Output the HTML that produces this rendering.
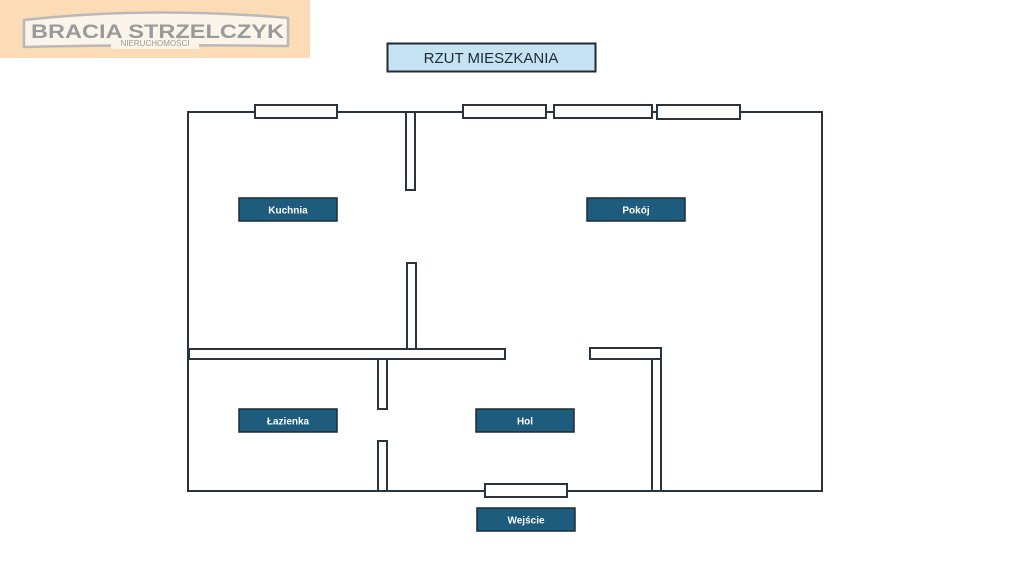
<!DOCTYPE html>
<html><head><meta charset="utf-8"><style>
html,body{margin:0;padding:0;background:#fff;width:1024px;height:576px;overflow:hidden}
svg{display:block}
</style></head><body>
<svg width="1024" height="576" viewBox="0 0 1024 576" xmlns="http://www.w3.org/2000/svg">
<rect width="1024" height="576" fill="#fff"/>
<rect x="0" y="0" width="310" height="58" fill="#fbdcb6"/>
<path d="M24 20 Q150 6 288 18 L288 46 Q150 44 24 47 Z" fill="#fbf4ea" stroke="#b9b9b9" stroke-width="2.5"/>
<text x="31" y="38" textLength="253" lengthAdjust="spacingAndGlyphs" font-family="Liberation Sans, sans-serif" font-weight="bold" font-size="19" fill="#9a9a9a">BRACIA STRZELCZYK</text>
<rect x="111" y="40" width="88" height="9" fill="#fbf4ea"/>
<text x="155" y="46" text-anchor="middle" font-family="Liberation Sans, sans-serif" font-size="8" fill="#9a9a9a">NIERUCHOMOŚCI</text>

<rect x="387.5" y="43.5" width="208" height="28" fill="#c5e3f3" stroke="#1f2a33" stroke-width="2"/>
<text x="491" y="63" text-anchor="middle" font-family="Liberation Sans, sans-serif" font-size="15" fill="#1f2a33">RZUT MIESZKANIA</text>

<g fill="#fff" stroke="#2a3440" stroke-width="2">
<rect x="188" y="112" width="634" height="379" fill="none"/>
<rect x="255" y="105" width="82" height="13"/>
<rect x="463" y="105" width="83" height="13"/>
<rect x="554" y="105" width="98" height="13"/>
<rect x="657" y="105" width="83" height="14"/>
<rect x="406" y="112" width="9" height="78"/>
<rect x="407" y="263" width="9" height="86"/>
<rect x="189" y="349" width="316" height="10"/>
<rect x="378" y="359" width="9" height="50"/>
<rect x="378" y="441" width="9" height="50"/>
<rect x="590" y="348" width="71" height="11"/>
<rect x="652" y="359" width="9" height="132"/>
<rect x="485" y="484" width="82" height="13"/>
</g>

<g fill="#1d5c7c" stroke="#1f2a33" stroke-width="1.5">
<rect x="239" y="198" width="98" height="23"/>
<rect x="587" y="198" width="98" height="23"/>
<rect x="239" y="409" width="98" height="23"/>
<rect x="476" y="409" width="98" height="23"/>
<rect x="477" y="508" width="98" height="23"/>
</g>
<g font-family="Liberation Sans, sans-serif" font-weight="bold" font-size="10" fill="#fff" text-anchor="middle">
<text x="288" y="213.5">Kuchnia</text>
<text x="636" y="213.5">Pokój</text>
<text x="288" y="424.5">Łazienka</text>
<text x="525" y="424.5">Hol</text>
<text x="526" y="523.5">Wejście</text>
</g>
</svg>
</body></html>
